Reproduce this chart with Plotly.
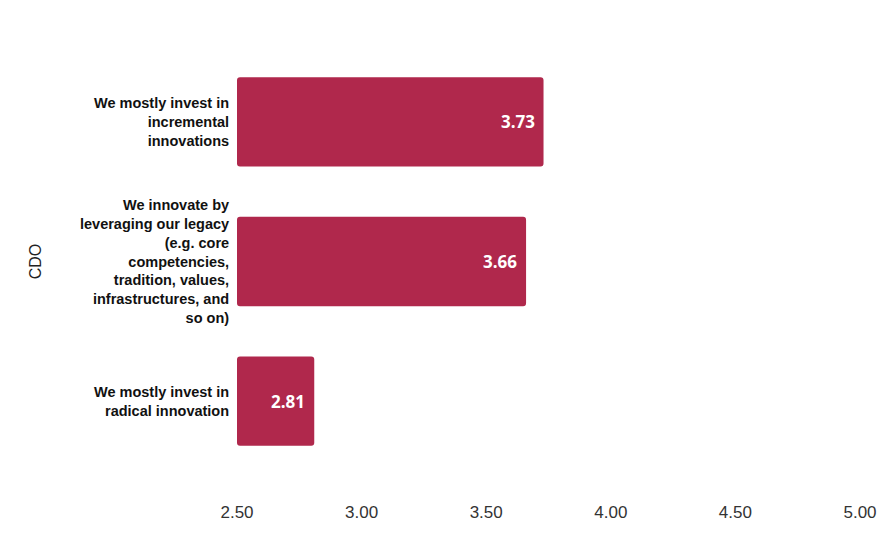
import plotly.graph_objects as go

# categories top-to-bottom
categories = [
    "We mostly invest in<br>incremental<br>innovations",
    "We innovate by<br>leveraging our legacy<br>(e.g. core<br>competencies,<br>tradition, values,<br>infrastructures, and<br>so on)",
    "We mostly invest in<br>radical innovation",
]
scores = [3.73, 3.66, 2.81]
x_ticks = [2.5, 3.0, 3.5, 4.0, 4.5, 5.0]
x_tick_labels = ["2.50", "3.00", "3.50", "4.00", "4.50", "5.00"]

AXIS_MIN = 2.5
BAR_COLOR = "#B0284C"

fig = go.Figure()

fig.add_trace(go.Bar(
    x=[s - AXIS_MIN for s in scores],
    y=categories,
    orientation="h",
    base=AXIS_MIN,
    width=0.64,
    marker=dict(color=BAR_COLOR, cornerradius=3, line=dict(width=0)),
    hoverinfo="y",
))

# value labels inside bar end
for cat, val in zip(categories, scores):
    fig.add_annotation(
        x=val, y=cat, xref="x", yref="y",
        text=f"<b>{val:.2f}</b>",
        showarrow=False, xanchor="right", xshift=-7,
        font=dict(family="Open Sans", size=17, color="white"),
    )

fig.update_layout(
    width=871, height=533,
    margin=dict(l=229, r=19, t=44, b=70),
    plot_bgcolor="white",
    paper_bgcolor="white",
    showlegend=False,
    xaxis=dict(
        range=[2.5, 5.0],
        tickvals=x_ticks,
        ticktext=x_tick_labels,
        showgrid=False,
        zeroline=False,
        showline=False,
        automargin=False,
        ticks="outside",
        ticklen=26,
        tickcolor="rgba(0,0,0,0)",
        tickfont=dict(family="Liberation Sans", size=17, color="#333333"),
    ),
    yaxis=dict(
        categoryorder="array",
        categoryarray=categories[::-1],
        showgrid=False,
        zeroline=False,
        showline=False,
        automargin=False,
        ticks="outside",
        ticklen=4,
        tickcolor="rgba(0,0,0,0)",
        tickfont=dict(family="Liberation Sans", size=14.5, color="#111111",
                      weight="bold"),
        title=dict(text="CDO", standoff=34,
                   font=dict(family="Liberation Sans", size=16, color="#222222")),
    ),
)

fig.write_html("out.html")
